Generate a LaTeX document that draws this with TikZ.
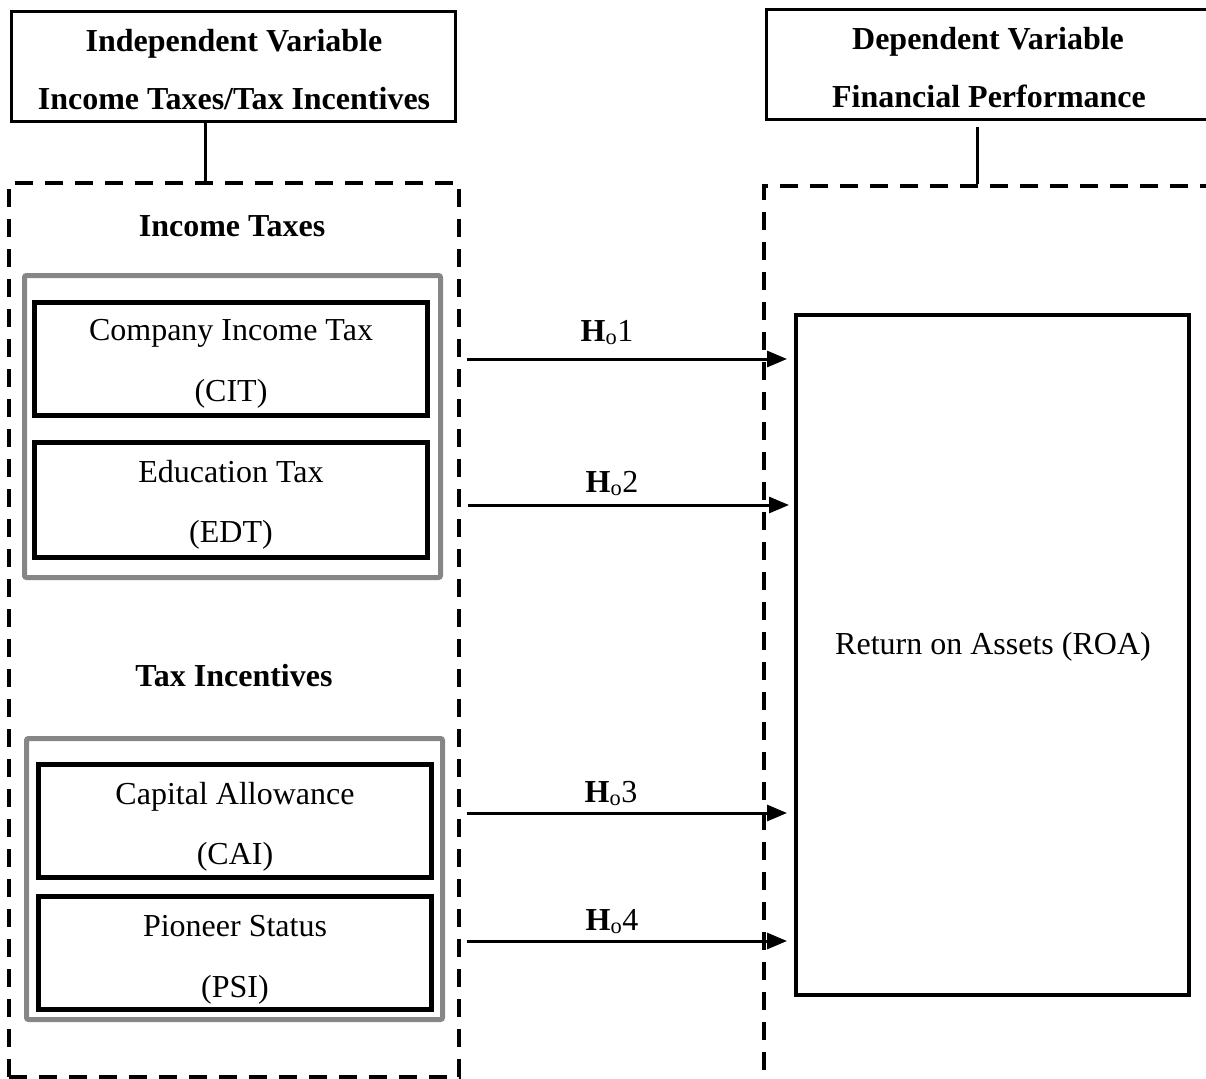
\documentclass[tikz,border=0pt]{standalone}
\usepackage{fontspec}
\setmainfont{Liberation Serif}
\usetikzlibrary{arrows.meta}
\begin{document}
\begin{tikzpicture}[x=1pt,y=-1pt,
  txt/.style={anchor=base,inner sep=0pt,font=\fontsize{32}{62}\selectfont},
  btxt/.style={txt,font=\fontsize{32}{62}\selectfont\bfseries},
  headbox/.style={draw,line width=3pt,minimum width=444pt,minimum height=110pt,inner sep=0pt},
  dashbox/.style={draw,line width=3.5pt,dash pattern=on 18pt off 12pt,inner sep=0pt},
  graybox/.style={draw=gray!95,line width=5pt,rounded corners=2pt,minimum width=416pt,inner sep=0pt},
  itembox/.style={draw,line width=4.5pt,minimum width=393pt,minimum height=113pt,inner sep=0pt},
  link/.style={line width=3pt},
  hyp/.style={line width=3pt,-{Triangle[length=20pt,width=16pt]}}
]
\useasboundingbox (0,0) rectangle (1206,1078);

% header boxes
\node[headbox] (tl) at (233.5,66.5) {};
\node[headbox] (tr) at (988.5,64.5) {};
\node[btxt] (tl1) at (234,52) {Independent Variable};
\node[btxt] (tl2) at (234,110) {Income Taxes/Tax Incentives};
\node[btxt] (tr1) at (988,50) {Dependent Variable};
\node[btxt] (tr2) at (989,108) {Financial Performance};

% dashed containers
\node[dashbox,minimum width=450pt,minimum height=894pt] (ld) at (234,630) {};
\node[dashbox,minimum width=450pt,minimum height=904pt] (rd) at (989,638) {};

% vertical links
\draw[link] (tl.south -| 205,0) -- (ld.north -| 205,0);
\coordinate (trl) at (977,127);
\draw[link] (trl) -- (rd.north -| trl);

% left headings
\node[btxt] (hit) at (232,236) {Income Taxes};
\node[btxt] (hti) at (234,686) {Tax Incentives};

% gray groups
\node[graybox,minimum height=302pt] (g1) at (232.5,426.5) {};
\node[graybox,minimum height=281pt] (g2) at (234.5,879) {};

% item boxes
\node[itembox] (cit) at (231,359) {};
\node[itembox,minimum height=115pt] (edt) at (231,500) {};
\node[itembox] (cai) at (235,821) {};
\node[itembox] (psi) at (235,953) {};

\node[txt] (cit1) at (231,340) {Company Income Tax};
\node[txt] (cit2) at (231,401) {(CIT)};
\node[txt] (edt1) at (231,482) {Education Tax};
\node[txt] (edt2) at (231,542) {(EDT)};
\node[txt] (cai1) at (235,804) {Capital Allowance};
\node[txt] (cai2) at (235,864) {(CAI)};
\node[txt] (psi1) at (235,936) {Pioneer Status};
\node[txt] (psi2) at (235,997) {(PSI)};

% dependent box
\node[draw,line width=4pt,minimum width=393pt,minimum height=680pt,inner sep=0pt] (roa) at (992.5,655) {};
\node[txt] (roat) at (993,654) {Return on Assets (ROA)};

% hypotheses arrows
\coordinate (s1) at (467,359); \coordinate (e1) at (787,359);
\coordinate (s2) at (468,505); \coordinate (e2) at (789,505);
\coordinate (s3) at (467,813); \coordinate (e3) at (787,813);
\coordinate (s4) at (467,941); \coordinate (e4) at (787,941);
\draw[hyp] (s1) -- (e1);
\draw[hyp] (s2) -- (e2);
\draw[hyp] (s3) -- (e3);
\draw[hyp] (s4) -- (e4);
\node[txt] (h1) at (607,341) {\textbf{H}\textsubscript{o}1};
\node[txt] (h2) at (612,492) {\textbf{H}\textsubscript{o}2};
\node[txt] (h3) at (611,802) {\textbf{H}\textsubscript{o}3};
\node[txt] (h4) at (612,930) {\textbf{H}\textsubscript{o}4};
\end{tikzpicture}
\end{document}
